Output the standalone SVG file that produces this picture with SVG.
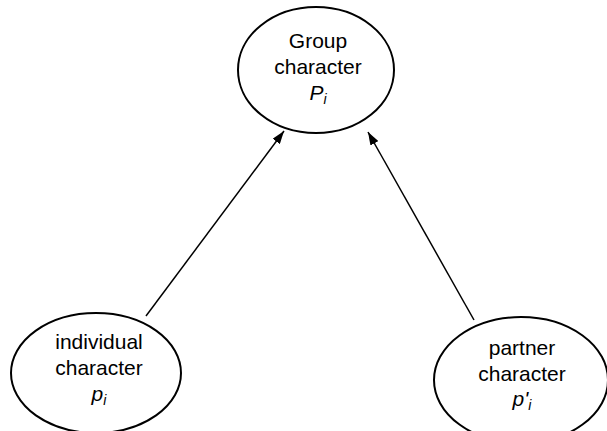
<svg xmlns="http://www.w3.org/2000/svg" width="607" height="431" viewBox="0 0 607 431">
  <style>
    .node ellipse { fill: #ffffff; stroke: #000000; stroke-width: 2; }
    .node text { font-family: "Liberation Sans", Arial, sans-serif; font-size: 21px; fill: #000000; text-anchor: middle; }
    .node .math { font-style: italic; }
    .node .sub { font-size: 14px; }
    .edge { stroke: #000000; stroke-width: 1.5; fill: none; marker-end: url(#arrow); }
  </style>
  <defs>
    <marker id="arrow" viewBox="0 0 13 9" refX="13" refY="4.5" markerWidth="13" markerHeight="9" markerUnits="userSpaceOnUse" orient="auto">
      <path d="M0,0 L13,4.5 L0,9 z" fill="#000000"/>
    </marker>
  </defs>
  <rect width="607" height="431" fill="#ffffff"/>

  <g id="edges">
    <line class="edge" x1="146" y1="316" x2="284" y2="131"/>
    <line class="edge" x1="474" y1="320" x2="368" y2="132"/>
  </g>

  <g id="group" class="node">
    <ellipse cx="316" cy="70" rx="78" ry="63"/>
    <text x="318" y="48">Group</text>
    <text x="318" y="74">character</text>
    <text x="318" y="100" class="math">P<tspan class="sub" dy="4">i</tspan></text>
  </g>

  <g id="individual" class="node">
    <ellipse cx="96" cy="373" rx="85" ry="60"/>
    <text x="99" y="349">individual</text>
    <text x="99" y="375">character</text>
    <text x="99" y="401" class="math">p<tspan class="sub" dy="4">i</tspan></text>
  </g>

  <g id="partner" class="node">
    <ellipse cx="521" cy="380" rx="87" ry="63"/>
    <text x="522" y="355">partner</text>
    <text x="522" y="381">character</text>
    <text x="522" y="406" class="math">p'<tspan class="sub" dy="4">i</tspan></text>
  </g>
</svg>
